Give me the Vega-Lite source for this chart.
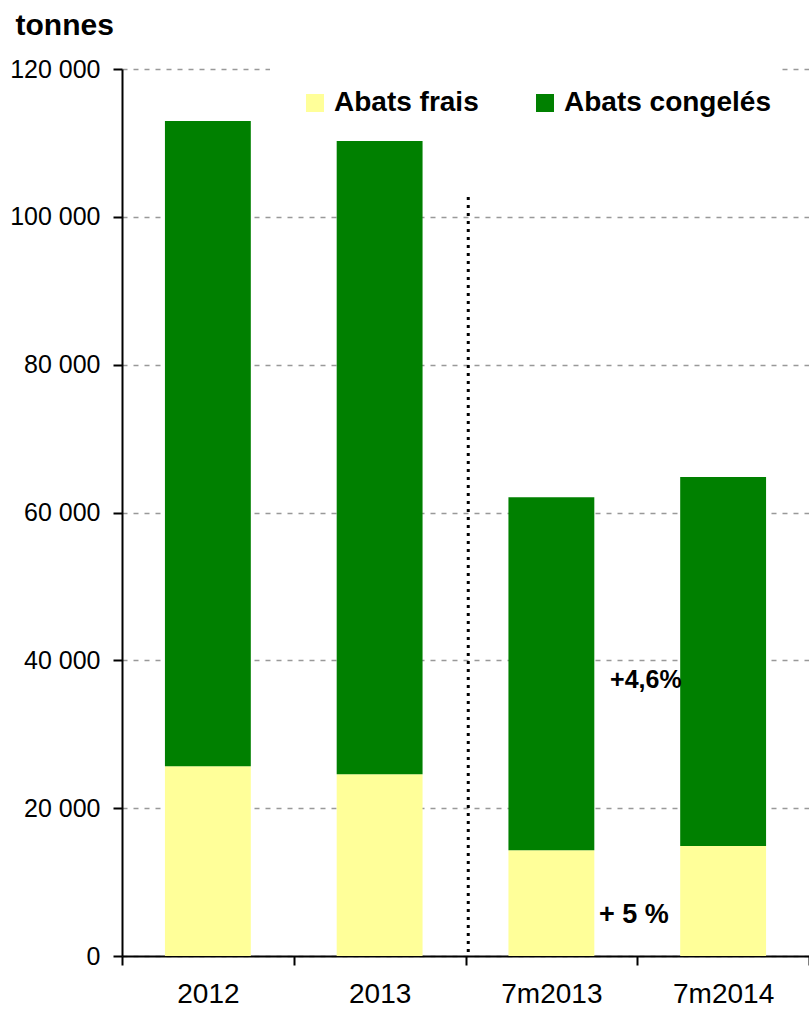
{
  "$schema": "https://vega.github.io/schema/vega-lite/v6.json",
  "autosize": "none",
  "width": 687,
  "height": 887,
  "padding": {"left": 122, "top": 69, "right": 0, "bottom": 53},
  "background": "white",
  "config": {
    "view": {"stroke": null},
    "font": "Liberation Sans"
  },
  "layer": [
    {
      "data": {
        "values": [
          {"periode": "2012", "type": "Abats frais", "ord": 1, "tonnes": 25670},
          {"periode": "2012", "type": "Abats congelés", "ord": 2, "tonnes": 87290},
          {"periode": "2013", "type": "Abats frais", "ord": 1, "tonnes": 24590},
          {"periode": "2013", "type": "Abats congelés", "ord": 2, "tonnes": 85670},
          {"periode": "7m2013", "type": "Abats frais", "ord": 1, "tonnes": 14300},
          {"periode": "7m2013", "type": "Abats congelés", "ord": 2, "tonnes": 47780},
          {"periode": "7m2014", "type": "Abats frais", "ord": 1, "tonnes": 14890},
          {"periode": "7m2014", "type": "Abats congelés", "ord": 2, "tonnes": 49900}
        ]
      },
      "mark": {"type": "bar", "width": {"band": 0.5}},
      "encoding": {
        "x": {
          "field": "periode",
          "type": "nominal",
          "scale": {"domain": ["2012", "2013", "7m2013", "7m2014"], "paddingInner": 0, "paddingOuter": 0},
          "axis": {
            "title": null,
            "labelAngle": 0,
            "labelFont": "Liberation Sans",
            "labelFontSize": 28,
            "labelColor": "black",
            "labelPadding": 15,
            "tickBand": "extent",
            "tickSize": 9,
            "tickWidth": 2,
            "tickColor": "black",
            "domainColor": "black",
            "domainWidth": 2,
            "grid": false
          }
        },
        "y": {
          "field": "tonnes",
          "type": "quantitative",
          "stack": "zero",
          "scale": {"domain": [0, 120000], "nice": false},
          "axis": {
            "values": [0, 20000, 40000, 60000, 80000, 100000, 120000],
            "labelExpr": "replace(format(datum.value, ','), ',', ' ')",
            "labelFontSize": 25,
            "labelColor": "black",
            "labelPadding": 13,
            "tickSize": 9,
            "tickWidth": 2,
            "tickColor": "black",
            "domainColor": "black",
            "domainWidth": 2,
            "grid": true,
            "gridColor": "#999999",
            "gridDash": [5, 6],
            "gridWidth": 1.5,
            "title": "tonnes",
            "titleAngle": 0,
            "titleAlign": "left",
            "titleBaseline": "middle",
            "titleX": -107,
            "titleY": -44,
            "titleFontSize": 30,
            "titleFontWeight": "bold",
            "titleColor": "black"
          }
        },
        "color": {
          "field": "type",
          "type": "nominal",
          "scale": {"domain": ["Abats frais", "Abats congelés"], "range": ["#FFFF99", "#008000"]},
          "legend": {
            "orient": "none",
            "direction": "horizontal",
            "legendX": 148,
            "legendY": -8,
            "fillColor": "white",
            "strokeColor": null,
            "padding": 8,
            "title": " ",
            "titleFontSize": 16,
            "titlePadding": 4,
            "symbolType": "square",
            "symbolSize": 324,
            "symbolStrokeWidth": 0,
            "symbolOffset": 23,
            "labelFont": "Liberation Sans",
            "labelFontSize": 28,
            "labelFontWeight": "bold",
            "labelColor": "black",
            "labelOffset": 5,
            "columnPadding": 29,
            "labelLimit": 400
          }
        },
        "order": {"field": "ord", "type": "quantitative"}
      }
    },
    {
      "data": {"values": [{"periode": "7m2013", "haut": 102700, "bas": 0}]},
      "mark": {"type": "rule", "color": "black", "strokeWidth": 3, "strokeDash": [3, 5], "strokeCap": "butt"},
      "encoding": {
        "x": {"field": "periode", "type": "nominal", "bandPosition": 0.016},
        "y": {"field": "haut", "type": "quantitative"},
        "y2": {"field": "bas"}
      }
    },
    {
      "data": {"values": [{"periode": "7m2014", "tonnes": 37300, "texte": "+4,6%"}]},
      "mark": {"type": "text", "fontSize": 25, "fontWeight": "bold", "color": "black", "align": "center", "baseline": "middle"},
      "encoding": {
        "x": {"field": "periode", "type": "nominal", "bandPosition": 0.05},
        "y": {"field": "tonnes", "type": "quantitative"},
        "text": {"field": "texte"}
      }
    },
    {
      "data": {"values": [{"periode": "7m2013", "tonnes": 5500, "texte": "+ 5 %"}]},
      "mark": {"type": "text", "fontSize": 27, "fontWeight": "bold", "color": "black", "align": "center", "baseline": "middle"},
      "encoding": {
        "x": {"field": "periode", "type": "nominal", "bandPosition": 0.98},
        "y": {"field": "tonnes", "type": "quantitative"},
        "text": {"field": "texte"}
      }
    }
  ]
}
